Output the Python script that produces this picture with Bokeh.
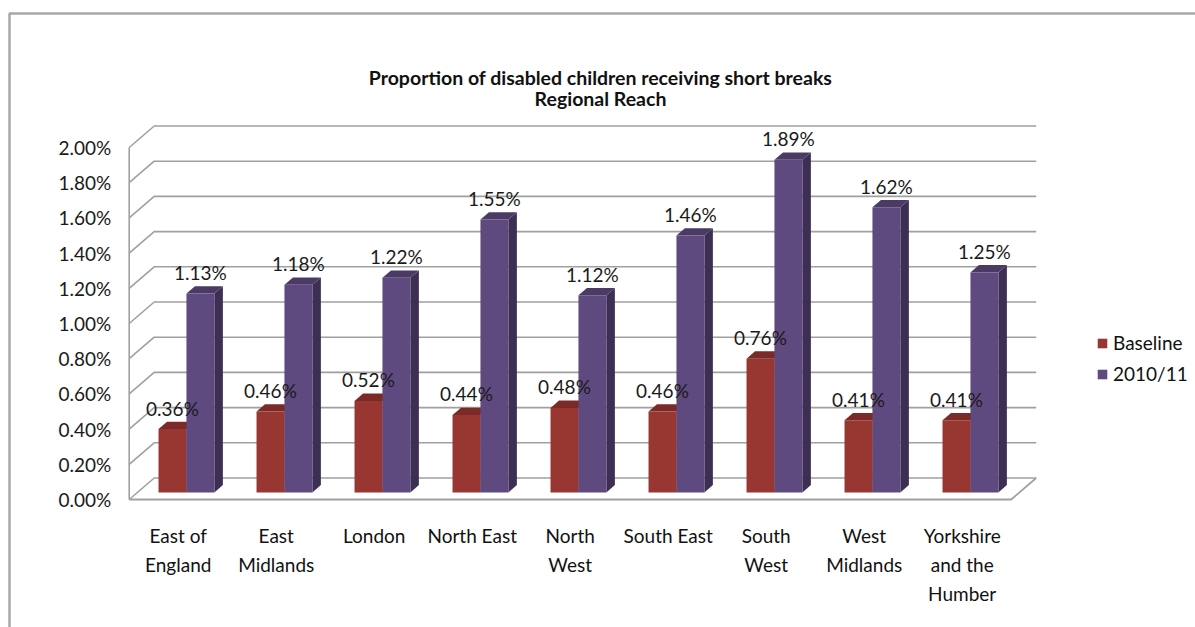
from bokeh.plotting import figure
from bokeh.models import Range1d, Label, Legend, LegendItem, ColumnDataSource
from bokeh.core.properties import value
from bokeh.embed import file_html
from bokeh.resources import INLINE

# ---------------- data ----------------
categories = ["East of\nEngland", "East\nMidlands", "London", "North East", "North\nWest",
              "South East", "South\nWest", "West\nMidlands", "Yorkshire\nand the\nHumber"]
baseline = [0.36, 0.46, 0.52, 0.44, 0.48, 0.46, 0.76, 0.41, 0.41]
y2010_11 = [1.13, 1.18, 1.22, 1.55, 1.12, 1.46, 1.89, 1.62, 1.25]
series_names = ["Baseline", "2010/11"]
y_ticks = [0.0, 0.2, 0.4, 0.6, 0.8, 1.0, 1.2, 1.4, 1.6, 1.8, 2.0]
y_tick_labels = ["0.00%", "0.20%", "0.40%", "0.60%", "0.80%", "1.00%",
                 "1.20%", "1.40%", "1.60%", "1.80%", "2.00%"]
title_lines = ["Proportion of disabled children receiving short breaks", "Regional Reach"]

# ---------------- layout / style ----------------
W, H = 1195, 627
PX_CAT = 98.0      # pixels per category
X0_PX = 177.7      # pixel x of category 0 (front plane)
PX_UNIT = 176.0    # pixels per 1.00 %
Y0_PX = 499.0      # pixel y of 0 % (front plane)
DX = 25.0 / PX_CAT     # depth offset in category units
DY = 21.5 / PX_UNIT    # depth offset in value units
D1, D2 = 0.33, 0.67    # bar depth span
BW = 0.285             # bar width in category units
FONT_NAME = "Lato"
FONT = value(FONT_NAME)

def xd(px):
    return (px - X0_PX) / PX_CAT

def yd(py):
    return (Y0_PX - py) / PX_UNIT

p = figure(width=W, height=H, x_range=Range1d(xd(0), xd(W)), y_range=Range1d(yd(H), yd(0)),
           output_backend="svg", toolbar_location=None, min_border=0,
           x_axis_location=None, y_axis_location=None, outline_line_color=None)
p.grid.visible = False
p.background_fill_color = "white"
p.border_fill_color = "white"

n = len(categories)
left_edge, right_edge = -0.5, n - 0.5
ymax = y_ticks[-1]

# outer frame (top and left)
p.line([xd(9), xd(9), xd(W)], [yd(H), yd(13), yd(13)], line_color="#A8A8A8", line_width=2.5)

# back wall gridlines with left wall diagonals
gx, gy = [], []
for t in y_ticks:
    gx.append([left_edge, left_edge + DX, right_edge + DX])
    gy.append([t, t + DY, t + DY])
p.multi_line(gx, gy, line_color="#A0A0A0", line_width=1.6)
# left wall front edge, floor front and right edges
p.line([left_edge, left_edge], [0, ymax], line_color="#A0A0A0", line_width=1.6)
p.line([left_edge, right_edge, right_edge + DX], [0, 0, DY], line_color="#A0A0A0", line_width=1.8)

# bars
colors = [("#983632", "#7A2A27", "#6A2421"), ("#5F4A7F", "#4A3A64", "#3D2F53")]
fronts = []
for s, vals in enumerate([baseline, y2010_11]):
    front_c, top_c, side_c = colors[s]
    xl = [i - BW + s * BW for i in range(n)]
    xr = [x + BW for x in xl]
    side_xs = [[r + DX * D1, r + DX * D2, r + DX * D2, r + DX * D1] for r in xr]
    side_ys = [[DY * D1, DY * D2, v + DY * D2, v + DY * D1] for v in vals]
    p.patches(side_xs, side_ys, fill_color=side_c, line_color=None)
    top_xs = [[l + DX * D1, r + DX * D1, r + DX * D2, l + DX * D2] for l, r in zip(xl, xr)]
    top_ys = [[v + DY * D1, v + DY * D1, v + DY * D2, v + DY * D2] for v in vals]
    p.patches(top_xs, top_ys, fill_color=top_c, line_color=None)
    src = ColumnDataSource(dict(
        left=[l + DX * D1 for l in xl], right=[r + DX * D1 for r in xr],
        bottom=[DY * D1] * n, top=[v + DY * D1 for v in vals]))
    fr = p.quad(left="left", right="right", bottom="bottom", top="top", source=src,
                fill_color=front_c, line_color=None)
    fronts.append(fr)

# value labels (drawn after all bars)
for s, vals in enumerate([baseline, y2010_11]):
    xl = [i - BW + s * BW for i in range(n)]
    cx = [l + BW / 2 + DX * D1 for l in xl]
    cy = [v + DY * D1 for v in vals]
    p.text(cx, cy, text=["%.2f%%" % v for v in vals], text_font=FONT, text_font_size="19px",
           text_color="#1a1a1a", text_align="center", text_baseline="middle", y_offset=-21)

# y tick labels
p.text([left_edge] * len(y_ticks), y_ticks, text=y_tick_labels, text_font=FONT,
       text_font_size="19px", text_color="#1a1a1a", text_align="right",
       text_baseline="middle", x_offset=-18)

# category labels
p.text(list(range(n)), [yd(523)] * n, text=categories, text_font=FONT, text_font_size="19px",
       text_color="#111111", text_align="center", text_baseline="top", text_line_height=1.28)

# title
for k, line in enumerate(title_lines):
    p.add_layout(Label(x=600, y=H - (77 + 21 * k), x_units="screen", y_units="screen", text=line,
                       text_font=FONT_NAME, text_font_size="19.5px", text_font_style="bold",
                       text_color="#111111", text_align="center", text_baseline="middle"))

# legend
legend = Legend(items=[LegendItem(label=series_names[0], renderers=[fronts[0]]),
                       LegendItem(label=series_names[1], renderers=[fronts[1]])],
                location=(1096, 242), glyph_width=12, glyph_height=12, label_standoff=5,
                padding=0, margin=0, spacing=8, border_line_color=None,
                background_fill_alpha=0, label_text_font=FONT_NAME, label_text_font_size="19px",
                label_text_color="#111111")
p.add_layout(legend)

open("out.html", "w").write(file_html(p, INLINE))
